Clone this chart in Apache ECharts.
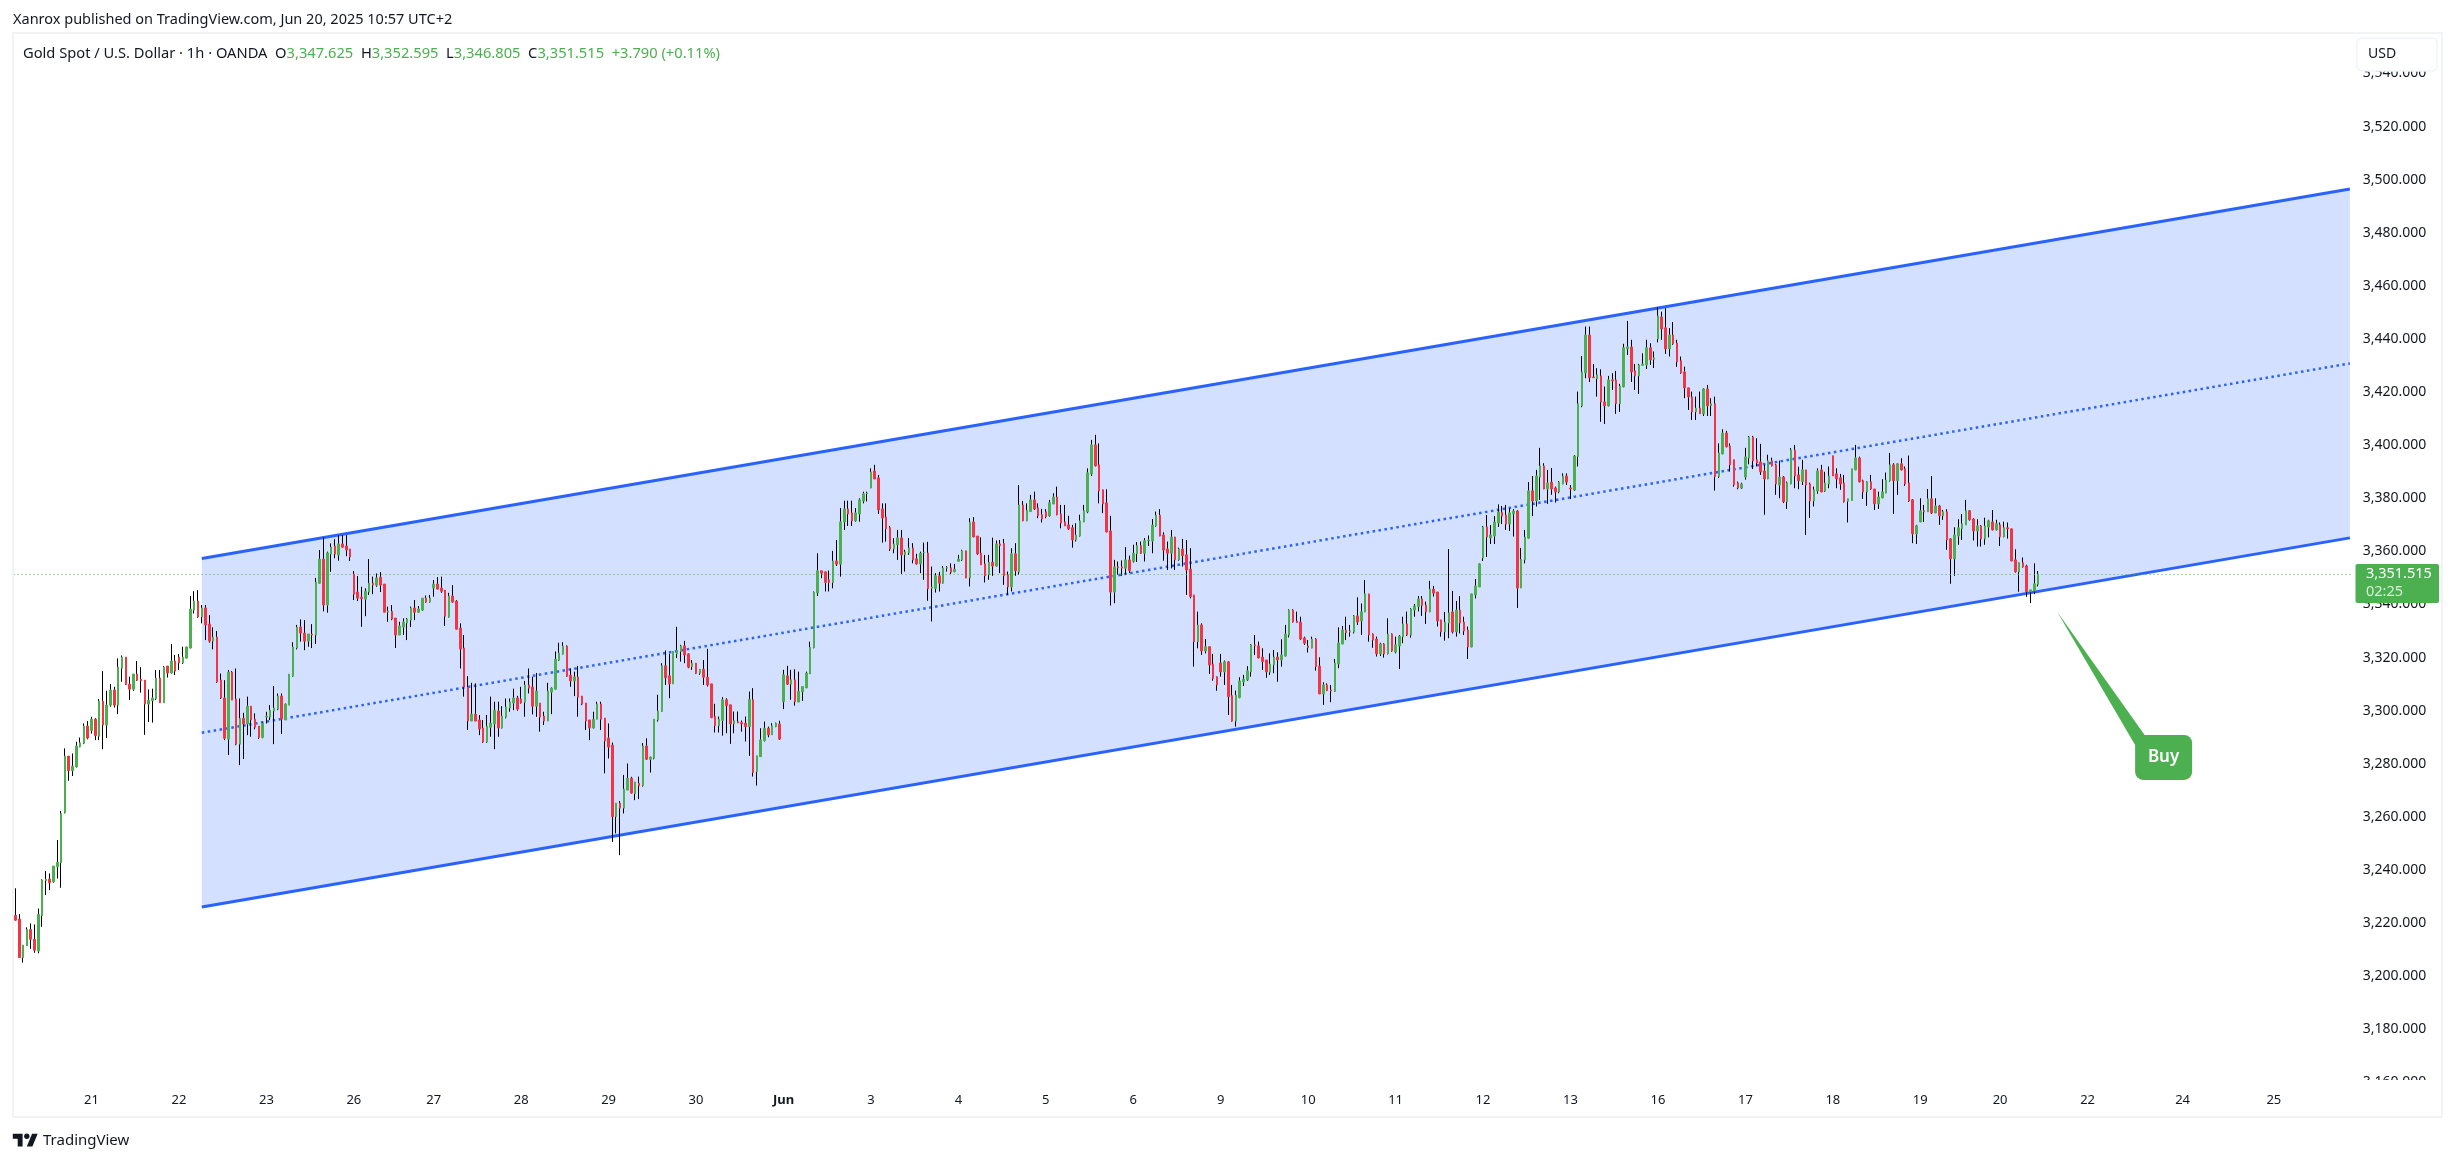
<!DOCTYPE html>
<html>
<head>
<meta charset="utf-8">
<title>Gold Spot / U.S. Dollar</title>
<script src="https://cdn.jsdelivr.net/npm/echarts@6/dist/echarts.min.js"></script>
<style>
  html, body { margin: 0; padding: 0; background: #fff; }
  #chart { width: 2455px; height: 1162px; }
</style>
</head>
<body>
<div id="chart"></div>
<script>
// each row is one hourly bar: open, high, low, close
const may20 = [
[3222.9,3233.1,3220.9,3221.1],[3221.5,3223.4,3207,3207],[3207,3211.7,3205.1,3211.7],[3211.5,3218.4,3211.5,3217.6],
[3217.6,3219.9,3210.3,3213.9],[3213.9,3219.5,3208.8,3209.8],[3209.5,3225.5,3208.6,3223.3],[3222.8,3236.5,3218.6,3236.2],
[3236,3239.6,3230.6,3236.5],[3236.6,3238.7,3232.4,3235.2],[3235.6,3241.5,3235.2,3241.5],[3241.2,3251.3,3236.8,3242.9],
[3242.7,3262.2,3233.3,3261.3],[3261.6,3285.8,3261.3,3282.9],[3282.9,3282.9,3273.6,3277.4],[3277.4,3283.9,3275.4,3279.1],
[3278.9,3288.3,3278.6,3286.7],[3286.4,3289.9,3286.2,3287.9],[3287.7,3295.2,3287.4,3294.2],[3294.2,3296.1,3289.2,3289.7]];
const may21 = [
[3292.5,3297.7,3291.4,3296.8],[3296.8,3297.2,3288.9,3290.6],[3290.4,3304.4,3288.9,3303.6],[3303.6,3314.9,3285.5,3294.6],
[3294.6,3307.5,3289.7,3302.1],[3302.1,3310,3301.5,3307.8],[3307.8,3309,3301.2,3302.1],[3302.1,3319.7,3298.7,3316.4],
[3316,3320.8,3310.9,3320.2],[3320.2,3320.2,3309.7,3309.9],[3310,3312.8,3304,3308.1],[3308.1,3313.8,3307.5,3313.8],
[3313.8,3318.7,3311.2,3311.5],[3311.9,3316.4,3306.8,3311.3],[3311.5,3311.5,3290.9,3302.5],[3302.5,3308,3295.7,3303.9],
[3303.8,3308.3,3295.5,3304.8],[3304.5,3315.3,3304,3312.3],[3312.3,3315.3,3303,3303],[3303,3316.8,3303,3316.4],
[3316.8,3316.8,3312.5,3314.2],[3314.2,3325.1,3314,3318.7],[3318.7,3321,3313.4,3314.9]];
const may22 = [
[3320.2,3321.3,3315.3,3318],[3318,3324.1,3317.6,3320.2],[3319.8,3324.1,3319.7,3324],[3323.6,3343.2,3323.5,3338.3],
[3337.9,3345,3336.6,3341.3],[3341.3,3345.4,3335,3335.3],[3335.3,3339.8,3332.9,3338.7],[3338.7,3339.8,3326.6,3332.3],
[3332.6,3336,3325.6,3326.2],[3326.2,3331.4,3323.1,3327.7],[3327.7,3330,3310.5,3310.8],[3311.5,3314,3304.4,3304.8],
[3304.8,3311.5,3288.9,3289.6],[3289.3,3315.3,3283.3,3314.5],[3314.5,3314.9,3304,3304],[3304.4,3315.9,3287,3287.4],
[3287.4,3304.6,3279.5,3297.1],[3297.1,3299.2,3281.8,3295],[3295,3305.3,3290.8,3301.7],[3301.7,3301.7,3290.2,3296.5],
[3296.8,3299,3293,3293.8],[3294.2,3294.2,3289.3,3290],[3290,3295.8,3289.6,3295.3]];
const may23 = [
[3297.6,3299.6,3295.2,3298],[3297.6,3302.1,3296.5,3300.2],[3299.9,3309.3,3287.4,3301],[3300.6,3306.5,3300.2,3305.5],
[3305.5,3306.5,3291.2,3296.8],[3296.5,3302.7,3296.5,3302.5],[3302.1,3313.8,3302.1,3313.8],[3313,3325.8,3312.8,3324],
[3323.6,3332.3,3323.1,3331.5],[3331.5,3334.4,3326,3329.2],[3329.2,3334.1,3322.8,3326.2],[3326.2,3328.9,3324.1,3328.9],
[3328.9,3332.6,3323.6,3328.5],[3328.5,3350,3325.1,3348.4],[3348,3360.5,3347.9,3357.1],[3357.1,3365.3,3337.4,3339.8],
[3339.8,3359.9,3336.9,3359.4],[3359,3363,3352.3,3361.6],[3362,3364.6,3357.4,3359],[3358.6,3366.1,3356.5,3362.8],
[3362.8,3366.1,3361.4,3361.6],[3362,3366.1,3358.2,3360.5],[3360.9,3360.9,3356.4,3357.9]];
const may26 = [
[3351.5,3352.6,3341.7,3343.9],[3344.7,3350.7,3341.3,3342.4],[3342.8,3346.7,3331.6,3342.2],[3342,3346.1,3335.6,3345],
[3344.7,3357.1,3343.6,3348.1],[3348.1,3350.5,3343.9,3347.3],[3347.3,3351.7,3346.7,3350],[3350.3,3352.2,3344.7,3347.3],
[3347.7,3347.7,3337.1,3337.1],[3337.1,3339.2,3333.5,3337.5],[3337.5,3339.8,3334.1,3334.5],[3334.9,3334.9,3323.6,3328.5],
[3328.5,3333.5,3328.5,3331.9],[3331.5,3334.8,3328.5,3333.4],[3333,3334.9,3326.6,3334.5],[3334.1,3339.2,3331.5,3338.7],
[3338.7,3341.7,3334.1,3337.1],[3337.1,3339.4,3336.9,3338.3],[3337.9,3342.4,3337.6,3342.4],[3342.4,3343.4,3340.7,3340.9],
[3340.9,3343.6,3340.7,3342.4]];
const may27 = [
[3346.2,3349.2,3342.9,3347.7],[3347.7,3350.3,3345.7,3345.8],[3346.2,3350.5,3344.4,3345],[3345.4,3345.4,3331.9,3335.6],
[3335.3,3344.4,3335.1,3343.2],[3343.2,3347.3,3340.7,3340.9],[3341.3,3341.7,3330.7,3330.7],[3331.1,3332.9,3315.9,3323.2],
[3323.6,3328.5,3305.3,3308.9],[3308.9,3313,3292.7,3296.1],[3296.1,3310.5,3296.1,3298.7],[3298.7,3310.3,3296.1,3296.1],
[3296.5,3298.4,3290.8,3293.1],[3293.5,3296.5,3287.9,3288.2],[3288.2,3298.4,3287.9,3294.2],[3293.8,3305.3,3290.2,3295.3],
[3295,3303.4,3285.5,3300.2],[3299.9,3303.4,3290.2,3293.5],[3293.5,3301.7,3293.3,3298],[3297.5,3304.6,3297.1,3301.4],
[3301,3304.6,3299.6,3303.3],[3302.9,3308.3,3300.2,3304.8],[3304.8,3305.6,3300,3300.6]];
const may28 = [
[3304.4,3309,3302.7,3302.9],[3303.2,3311.2,3297.7,3309.7],[3309.7,3315.9,3306.5,3308.5],[3308.9,3312.8,3298.6,3301.7],
[3301.7,3314.2,3297.7,3307.4],[3302.9,3302.9,3292.1,3297.6],[3298,3299.6,3294.6,3296.1],[3296.1,3310.5,3296.1,3307.4],
[3307,3308.8,3298.7,3308.5],[3308.1,3322.3,3308,3319.4],[3319,3325.6,3318.8,3321.7],[3321.3,3325.8,3321.2,3324.3],
[3324.3,3324.6,3312.8,3313],[3313.4,3315.9,3309,3311.2],[3311.2,3314.7,3305.5,3312.7],[3312.7,3316.9,3297.7,3305.1],
[3305.5,3305.5,3302.1,3302.5],[3302.9,3302.9,3292.7,3296.1],[3296.5,3296.5,3288.9,3293.5],[3293.5,3299.6,3293.3,3296.8],
[3296.8,3303.4,3296.8,3302.5],[3302.5,3303.4,3292.7,3296.8],[3297.2,3297.2,3276.4,3288.6]];
const may29 = [
[3289.7,3295.2,3282,3286.3],[3287,3288,3250.6,3260.1],[3260.1,3265.2,3253.8,3265.2],[3265.2,3266,3245.6,3263.3],
[3263.3,3275.8,3261.3,3270.5],[3270.1,3280.1,3270.1,3274.6],[3274.6,3275.1,3268.8,3269],[3268.8,3273.2,3266.3,3273.1],
[3272.7,3275.2,3266.7,3271.7],[3271.8,3287.8,3271.4,3286.7],[3286.7,3289.6,3281.5,3281.7],[3281.7,3282.7,3276.7,3282.5],
[3282.1,3296.8,3281.7,3296.8],[3296.5,3306,3295.9,3299.9],[3299.7,3317.9,3299.7,3316.9],[3316.9,3322.7,3309.7,3312.4],
[3313.1,3321.4,3304.7,3310.1],[3310.1,3322.3,3310.1,3322.3],[3321.4,3331.6,3319.8,3322.7],[3322.3,3324.8,3318.5,3324.4],
[3324.4,3326.3,3317.9,3321],[3321.4,3321.6,3316,3316.4],[3316.6,3319.1,3315.4,3317.9]];
const may30 = [
[3317.9,3317.9,3313.9,3314.1],[3314.1,3315.6,3313.5,3315.6],[3315.6,3319.1,3309.7,3312.6],[3312.6,3323.3,3309.1,3309.7],
[3310.1,3310.1,3297.2,3297.4],[3297.8,3302.6,3291.8,3294.3],[3294.3,3297.8,3291.8,3296.8],[3296.3,3305.1,3290.6,3304.1],
[3304.1,3304.7,3291.5,3301.9],[3302.2,3302.2,3287.5,3295],[3295,3299.7,3291.5,3296.2],[3295.9,3299.7,3295.3,3295.5],
[3295.5,3296.3,3292.1,3295],[3295.3,3297.8,3288.4,3294],[3294,3307.2,3283,3304.3],[3304.1,3308.5,3275.2,3276.7],
[3277,3283,3271.8,3283],[3282.7,3293.4,3282.7,3289],[3288.8,3295.9,3288.4,3293.4],[3293.4,3294,3290,3290.9],
[3290.9,3295.3,3290.9,3294.3],[3294,3295.5,3293.8,3295.3],[3295,3296.2,3289,3289.3]];
const jun2 = [
[3303.4,3315.4,3300.6,3313.5],[3313.1,3316.9,3309.7,3310],[3310,3315.4,3304.1,3311.6],[3311.6,3315.6,3301.9,3303.4],
[3303.3,3314.7,3303.2,3307.3],[3307.1,3309.3,3303.7,3309.1],[3308.6,3314.7,3308.5,3314.1],[3313.9,3326,3313.9,3323.9],
[3323.7,3344.9,3323.5,3344.6],[3344.4,3359.3,3343.2,3352.7],[3352.7,3352.7,3349.9,3351.8],[3352.3,3352.3,3344.9,3348.3],
[3349.3,3352.8,3344.9,3348.3],[3348.3,3360.2,3346.1,3356.4],[3356.4,3364.3,3354.5,3355.2],[3355.2,3376.3,3350.5,3371.1],
[3371.1,3379.1,3368.1,3376],[3376,3379.1,3369.6,3374.1],[3374.5,3379.1,3369.6,3371.5],[3371.5,3376.3,3371.2,3374.5],
[3374.1,3380,3371.2,3379.4],[3379,3382.5,3378.1,3381.7],[3381.7,3382.5,3378.8,3382]];
const jun3 = [
[3383.9,3391.3,3383.8,3389.9],[3390.3,3392.6,3387.2,3387.3],[3387.7,3388.8,3374.1,3375.6],[3376,3378.1,3363.3,3372.6],
[3373,3378.1,3363.7,3368.5],[3368.9,3369.6,3360.2,3360.9],[3360.9,3365,3359.3,3362.8],[3362.5,3368.1,3356.8,3365.1],
[3365.1,3368.1,3351.5,3358.7],[3358.7,3360.6,3352.4,3359.8],[3359.4,3365,3358.7,3361.3],[3361.3,3363.1,3355.5,3356.8],
[3357.2,3359.1,3355,3355.3],[3355.3,3359.9,3351.8,3359.3],[3359.5,3363.3,3349.3,3359.6],[3359.4,3363.6,3341.4,3345.9],
[3346.1,3354.3,3333.6,3346.6],[3346.1,3351.8,3344.5,3350.8],[3350.8,3352.3,3344.9,3348],[3348,3354.5,3347.9,3353.7],
[3353.7,3354.5,3352.4,3353.9],[3353.8,3355.5,3351.5,3352.2],[3352.3,3355.3,3352.2,3353.3]];
const jun4 = [
[3356.3,3358.7,3356.2,3357.1],[3356.8,3360.6,3356.4,3360.2],[3360.2,3360.2,3349.9,3350],[3350,3372.5,3346.8,3371],
[3371.1,3372.9,3365.3,3365.5],[3365.8,3365.8,3358.7,3359.1],[3359.3,3365.3,3354.9,3354.9],[3355.3,3358.7,3348.3,3350.8],
[3351.2,3358.7,3349.3,3355.9],[3355.9,3365.2,3350.8,3354.5],[3354.5,3364.1,3354.3,3362.8],[3362.8,3364.3,3351.8,3362.2],
[3363,3364.7,3347.4,3350.8],[3351.2,3352.4,3343.6,3346.6],[3346.6,3361.2,3344.9,3359.1],[3359.1,3363.1,3350.8,3352.7],
[3352.3,3385,3351.2,3377.5],[3377.5,3379,3371.4,3371.5],[3371.5,3378.1,3371.4,3375.4],[3375,3381.3,3375,3379.4],
[3379.4,3382.5,3375.6,3376],[3376.4,3378.1,3372.5,3373.4],[3373.8,3376,3370.9,3372.2]];
const jun5 = [
[3374.9,3375.9,3372.5,3373.1],[3373.4,3379.4,3373.1,3378.3],[3377.9,3381.9,3377.8,3380.5],[3380.5,3384.4,3373.6,3373.8],
[3374.1,3377.5,3368.7,3370.7],[3371.1,3377.5,3369.6,3369.6],[3370,3373.4,3368.1,3368.5],[3368.9,3370,3361.4,3364.3],
[3364.3,3370.6,3363.7,3366.2],[3365.8,3373.8,3365.6,3371.5],[3371.1,3377.5,3371,3375.3],[3374.9,3391.3,3374.4,3389.6],
[3389.2,3402,3388.4,3400.1],[3400.1,3403.9,3392,3392.2],[3392.6,3400.7,3378.1,3382.8],[3383.2,3383.2,3374.4,3377.9],
[3378.3,3383.4,3367.2,3367.3],[3367.7,3373.4,3339.6,3344.7],[3344.7,3356.8,3340.5,3354.2],[3354.2,3356.2,3351.2,3353.8],
[3354.2,3356.6,3350.8,3353.7],[3353.7,3361.6,3351.2,3356.8],[3356.8,3358.4,3351.8,3352.8]];
const jun6 = [
[3356.3,3362.5,3355.8,3359.3],[3359.1,3363.5,3356,3362.2],[3362.2,3363.7,3359.1,3359.3],[3359.3,3365,3356.2,3364],
[3364,3366,3362,3364.3],[3363.9,3372.2,3359.3,3369.9],[3369.6,3375,3369.3,3373.7],[3373.7,3375.9,3365.7,3365.8],
[3366.2,3367.2,3356.5,3360.5],[3360.9,3363.7,3353,3359.3],[3359.3,3368.1,3353.6,3365.4],[3365.4,3365.5,3353,3356.8],
[3356.8,3361.4,3356.5,3360.9],[3360.9,3364.7,3354.3,3358.4],[3358.7,3364.3,3343.6,3353],[3353.3,3361.2,3342.3,3343],
[3343.6,3343.6,3316.6,3326],[3326,3337.3,3323.5,3332.3],[3332.3,3332.9,3321,3322.5],[3322.5,3327,3321.6,3324.1],
[3324.1,3324.1,3313.8,3317.2],[3317.6,3321.4,3311.3,3312.2],[3312.8,3312.8,3307.5,3309.7]];
const jun9 = [
[3318,3321.4,3312.8,3314.6],[3314.6,3318.9,3309.7,3318.4],[3318.4,3318.6,3298.4,3305.3],[3305.7,3309.7,3295.9,3296.1],
[3296.1,3307.6,3294,3305.9],[3305,3312.6,3304.7,3311.2],[3310.8,3313.5,3309.3,3311.9],[3311.6,3316.8,3311.2,3315],
[3314.6,3325.1,3312.8,3324.8],[3324.8,3328.5,3321,3324.4],[3324.4,3326,3319.7,3319.9],[3320.2,3323.5,3315.3,3318.5],
[3319.1,3319.1,3312.4,3314.6],[3314.5,3321.6,3313.5,3317.6],[3317.2,3322.9,3314.1,3320.2],[3320.2,3322,3310.9,3319.1],
[3319.1,3326.9,3316.6,3321],[3320.6,3332.3,3320.4,3328.9],[3328.5,3338.2,3327.6,3337.9],[3337.9,3338.2,3333.2,3333.4],
[3333.8,3337.3,3333.2,3333.2],[3333.4,3335.4,3326.6,3327],[3327.4,3327.9,3324.8,3325.4]];
const jun10 = [
[3324.4,3326.6,3321.9,3323.7],[3323.6,3327.9,3323.5,3327],[3327,3327.3,3315.1,3316.6],[3316.8,3320.1,3306.3,3306.3],
[3306.3,3310.7,3302.2,3309.7],[3309.7,3310.3,3307.4,3307.6],[3307.8,3309.7,3303.2,3307.4],[3307.2,3319.5,3307.1,3318],
[3317.6,3331.4,3316,3325.5],[3325.1,3331.9,3325.1,3330.4],[3330.4,3335.4,3326.6,3329.4],[3329.6,3332.3,3327.9,3330],
[3329.6,3336,3329.1,3335.7],[3335.7,3342.7,3332.3,3333.4],[3333.8,3340.4,3328.5,3337.2],[3337.2,3349.2,3337.1,3344],
[3344,3344,3326,3328.5],[3328.9,3329.1,3323.7,3326.6],[3327,3327.9,3320.4,3321.4],[3321.4,3325.6,3320.6,3325.1],
[3325.1,3325.4,3320,3321.4],[3321.4,3334.8,3321.2,3328.9],[3328.9,3329.1,3322.2,3322.5],[3322.1,3327.9,3321.6,3324.8]];
const jun11 = [
[3324.4,3328.5,3315.7,3328.1],[3327.8,3335.4,3325.4,3332.7],[3332.7,3337.3,3328.1,3328.5],[3328.5,3338.6,3327.5,3338.3],
[3337.9,3340.2,3335.4,3339.4],[3339.2,3343.2,3337.4,3342.1],[3342.1,3343.2,3335.7,3339.6],[3339.8,3341.1,3332.7,3337.2],
[3337.2,3348.9,3337.1,3345.8],[3345.8,3347,3343,3344.3],[3344.7,3344.7,3331.7,3333.8],[3334.2,3334.2,3327.9,3329.7],
[3329.7,3337.2,3326.4,3333.4],[3333,3360.9,3327.3,3336.8],[3337.2,3345.1,3329.1,3329.7],[3329.7,3341.3,3327.9,3337.9],
[3337.9,3343.2,3329.1,3333],[3333.4,3335.4,3328.5,3330],[3330.4,3331.7,3319.5,3324],[3324,3344,3323.9,3344],
[3343.6,3349.6,3342.3,3347],[3346.6,3355.5,3346.6,3355.3]];
const jun12 = [
[3357.5,3369.6,3356.4,3369.2],[3369.2,3373.7,3357.9,3365.4],[3365.1,3369.9,3362.8,3366.2],[3365.8,3373.3,3362.8,3371.1],
[3370.7,3377.7,3369.2,3374.8],[3374.8,3377.1,3370.3,3373.3],[3373.7,3377.5,3368.1,3370.3],[3370.3,3376.2,3367.7,3374.5],
[3374.1,3375.9,3365.6,3375.2],[3375.2,3375.6,3338.7,3346.2],[3346.2,3361.3,3346.2,3357],[3356.8,3368.1,3355.5,3365.4],
[3365,3386.1,3364.8,3382.8],[3382.8,3388.4,3373.3,3379],[3379,3390.7,3376.9,3388.4],[3388,3399,3379.4,3392.2],
[3392.2,3393.2,3383.4,3383.5],[3383.5,3390.7,3377.9,3385.8],[3386.1,3391.4,3381.3,3383.5],[3383.9,3384.4,3378.4,3382.4],
[3382.4,3386.5,3381.9,3386.1],[3385.4,3389.4,3385.3,3388.4],[3388.4,3389.4,3385,3386.1]];
const jun13 = [
[3383.9,3385,3379.7,3383.5],[3383.1,3396.3,3382.8,3395.9],[3395.7,3420.2,3392,3415.6],[3414.8,3433.6,3414.3,3427.6],
[3427.2,3444.7,3425.2,3441.5],[3441.5,3444.7,3423.8,3425.4],[3425.7,3430.6,3425.4,3425.4],[3425,3429,3418.3,3426.5],
[3426.1,3428.6,3408.8,3416.3],[3416.3,3422.1,3408,3414.8],[3414.8,3426.1,3414.6,3424.6],[3424.6,3427.1,3420.8,3424.2],
[3424.6,3428,3411.8,3415.6],[3415.6,3423.1,3412.5,3422.3],[3422,3438.2,3421.8,3436.7],[3436.3,3446.8,3434,3437],
[3437,3439.7,3423.8,3427.6],[3428,3430.6,3420.8,3426.1],[3426.1,3430.6,3419.3,3430.2],[3430.1,3434.6,3430.1,3430.6],
[3430.2,3439.7,3428.7,3436.7],[3436.7,3438.4,3430.2,3432.1],[3432.3,3435.3,3429.1,3432.9]];
const jun16 = [
[3440,3452,3438.7,3448.7],[3448.3,3450.3,3439.7,3443.8],[3444.2,3451.6,3434.4,3436.3],[3436.3,3444.1,3433.4,3441.5],
[3441.5,3446.4,3437.8,3438.2],[3438.5,3439.7,3429.5,3431.4],[3431.8,3433.4,3426.9,3427.2],[3427.6,3429.6,3417.7,3421.6],
[3421.6,3421.6,3413.3,3418.2],[3418.2,3420.2,3409.5,3412.5],[3412.5,3418.3,3409.5,3414],[3414,3420.2,3411.8,3411.8],
[3411.8,3421.5,3411,3421.2],[3421.2,3422.7,3411,3414.8],[3414.8,3417.7,3411,3415.6],[3415.6,3418.3,3382.9,3388.2],
[3388.2,3400.7,3387.6,3397.1],[3396.7,3406,3396.6,3404.6],[3404.6,3405.4,3399.2,3399.4],[3399.7,3400.7,3390.1,3392.6],
[3394.5,3394.5,3384.4,3385.1],[3385.8,3386.3,3383.4,3383.9],[3383.9,3385.9,3383.5,3385.4]];
const jun17 = [
[3388,3399,3387,3395.6],[3395.2,3403.5,3392.8,3403.1],[3403.1,3403.5,3391,3394.1],[3394.5,3402.6,3392,3393.3],
[3393.7,3400.5,3388.8,3390],[3390.3,3392.6,3373.8,3387.3],[3387.3,3396.4,3387.2,3394.1],[3394.1,3395.3,3392,3392.2],
[3392.6,3393,3381.3,3385.4],[3385,3394.2,3380,3388],[3388,3388.4,3378.2,3378.7],[3378.7,3386.3,3376,3385.8],
[3385.4,3398.9,3385.3,3398.2],[3398.2,3400.1,3383.8,3388.4],[3388.8,3391.9,3383.4,3386.6],[3386.3,3394.5,3385,3390.7],
[3390.7,3390.7,3366.2,3385],[3385.4,3385.9,3372.6,3379],[3379,3384.4,3376.9,3383.2],[3382.8,3391.3,3381.7,3390.3],
[3390.7,3392.6,3382.3,3382.4],[3382.7,3390,3382.4,3385.8],[3385.4,3392,3383.8,3388.4],[3396,3396,3388.4,3388.4]];
const jun18 = [
[3389.2,3391.3,3383.8,3387.3],[3387.7,3389.2,3383.2,3385.4],[3385.8,3388.8,3378.4,3378.7],[3378.9,3379.8,3370.9,3379.8],
[3379.2,3391.1,3379.2,3391.1],[3390.7,3400.1,3390.6,3395.2],[3395.2,3395.7,3386,3386.2],[3386.6,3387,3379.8,3382.4],
[3382.4,3386.4,3377.1,3386.2],[3386.2,3388.8,3383.2,3383.5],[3383.5,3383.5,3375.6,3377.9],[3377.9,3382.5,3376,3380.5],
[3380.2,3387.2,3380,3382.4],[3382,3389.7,3381.9,3386.9],[3386.6,3397.1,3386.3,3392.6],[3392.6,3393.2,3374.1,3386.6],
[3386.6,3393.2,3381.3,3393],[3393,3395.1,3390.5,3390.7],[3391.1,3392,3384.7,3385.4],[3385.8,3396.1,3378.6,3379],
[3379.4,3379.7,3363.1,3366.6],[3366.6,3370,3362.8,3369.6],[3371.1,3380,3371,3375.3]];
const jun19 = [
[3375.3,3377.5,3371.1,3374.9],[3374.9,3383.5,3374.9,3379.8],[3379.8,3388.4,3374.1,3374.5],[3374.5,3380,3374.4,3377.1],
[3377.1,3377.5,3370,3373.4],[3373.4,3375.6,3371.9,3374.9],[3374.9,3375.9,3360.6,3364.3],[3364.7,3365,3347.8,3357.2],
[3357.2,3369.1,3350.8,3366.2],[3365.8,3372.1,3362.5,3368.9],[3368.5,3374.1,3364.3,3370.4],[3370,3379.4,3369.9,3375.3],
[3375.3,3375.6,3371.6,3371.9],[3372.2,3372.5,3364.1,3367.7],[3367.7,3372.1,3361.8,3369.6],[3369.6,3369.9,3361.8,3364.7],
[3364.7,3372.7,3362.5,3369.6],[3369.2,3371.9,3365.3,3371.5],[3371.1,3375.6,3367.9,3368.1],[3368.1,3371.9,3367.9,3370.4],
[3370,3370.9,3362,3365.5]];
const jun20 = [
[3365.5,3371.2,3365.3,3368.9],[3368.9,3370.9,3364.8,3368.5],[3368.5,3368.5,3356.3,3356.4],[3356.8,3360.8,3352,3352.3],
[3352.3,3355.8,3344.8,3355.7],[3355.7,3357.7,3353.9,3354.2],[3354.5,3355,3342.9,3344.8],[3344.8,3345.5,3340.6,3345.5],
[3345.1,3355.5,3343.9,3347.8],[3347.625,3352.595,3346.805,3351.515]];

const bars = [may20, may21, may22, may23, may26, may27, may28, may29, may30, jun2, jun3, jun4, jun5,
  jun6, jun9, jun10, jun11, jun12, jun13, jun16, jun17, jun18, jun19, jun20].flat();

// x axis: one slot per hour, future slots included
const slotCount = 615;
const tickSlots = [20, 43, 66, 89, 110, 133, 156, 179, 202, 225, 248, 271, 294, 317, 340, 363, 386, 409, 432, 455, 478, 501, 522, 545, 570, 594];
const tickLabels = ['21', '22', '23', '26', '27', '28', '29', '30', 'Jun', '3', '4', '5', '6', '9', '10', '11', '12', '13', '16', '17', '18', '19', '20', '22', '24', '25'];

// channel drawing
const channelSlots = [49, 614];
const channelUpper = [3357.3, 3496.5];
const channelMiddle = [3291.7, 3430.8];
const channelLower = [3226.1, 3365.1];

// callout
const buyTip = [537, 3337.3];
const buyBox = [565, 3282.4];

const lastPrice = 3351.515;
const green = '#4caf50';
const red = '#f23645';
const textColor = '#131722';
const fontFamily = '"Noto Sans", sans-serif';

const categories = [];
for (let i = 0; i < slotCount; i++) {
  const t = tickSlots.indexOf(i);
  categories.push(t >= 0 ? tickLabels[t] : '');
}

function channelLine(name, values, lineStyle) {
  return {
    name: name,
    type: 'line',
    data: channelSlots.map((s, i) => [s, values[i]]),
    showSymbol: false,
    silent: true,
    lineStyle: lineStyle,
    z: 3
  };
}

function fmtPrice(v) {
  return v.toLocaleString('en-US', { minimumFractionDigits: 3, maximumFractionDigits: 3 });
}

const myChart = echarts.init(document.getElementById('chart'));

const option = {
  animation: false,
  backgroundColor: '#ffffff',
  textStyle: { fontFamily: fontFamily },
  grid: { left: 13.6, top: 20.4, width: 2338.2, height: 1062 },
  xAxis: {
    type: 'category',
    data: categories,
    axisLine: { show: false },
    axisTick: { show: false },
    splitLine: { show: false },
    axisLabel: {
      interval: 0,
      margin: 11,
      fontSize: 13,
      color: textColor,
      fontFamily: fontFamily,
      formatter: v => v === 'Jun' ? '{b|Jun}' : v,
      rich: { b: { fontWeight: 'bold', fontSize: 13, color: textColor, fontFamily: fontFamily } }
    }
  },
  yAxis: {
    type: 'value',
    position: 'right',
    min: 3160,
    max: 3560,
    interval: 20,
    axisLine: { show: false },
    axisTick: { show: false },
    splitLine: { show: false },
    axisLabel: {
      margin: 11,
      fontSize: 14,
      color: textColor,
      fontFamily: fontFamily,
      formatter: v => v === 3560 ? '' : fmtPrice(v)
    }
  },
  series: [
    {
      name: 'Channel fill',
      type: 'custom',
      silent: true,
      z: 1,
      data: [0],
      renderItem: function (params, api) {
        const a = api.coord([channelSlots[0], channelUpper[0]]);
        const b = api.coord([channelSlots[1], channelUpper[1]]);
        const c = api.coord([channelSlots[1], channelLower[1]]);
        const d = api.coord([channelSlots[0], channelLower[0]]);
        return {
          type: 'polygon',
          shape: { points: [a, b, c, d] },
          style: { fill: 'rgba(41,98,255,0.2)' }
        };
      }
    },
    channelLine('Upper', channelUpper, { color: '#2962ff', width: 3 }),
    channelLine('Middle', channelMiddle, { color: '#2962ff', width: 2.5, type: [2.5, 3.5] }),
    channelLine('Lower', channelLower, { color: '#2962ff', width: 3 }),
    {
      // black wicks, the bodies go on top
      name: 'Wicks',
      type: 'candlestick',
      barWidth: 1,
      silent: true,
      z: 4,
      data: bars.map(b => [b[0], b[3], b[2], b[1]]),
      itemStyle: { color: '#000', color0: '#000', borderColor: '#000', borderColor0: '#000', borderWidth: 1 },
      markLine: {
        silent: true,
        symbol: 'none',
        label: { show: false },
        lineStyle: { color: green, width: 1, type: [1, 3] },
        data: [{ yAxis: lastPrice }]
      }
    },
    {
      name: 'Bodies',
      type: 'candlestick',
      barWidth: 2,
      silent: true,
      z: 5,
      data: bars.map(b => [b[0], b[3], Math.min(b[0], b[3]), Math.max(b[0], b[3])]),
      itemStyle: { color: green, color0: red, borderColor: green, borderColor0: red, borderWidth: 1 }
    },
    {
      name: 'Buy',
      type: 'custom',
      silent: true,
      z: 6,
      data: [0],
      renderItem: function (params, api) {
        const tip = api.coord(buyTip);
        const box = api.coord(buyBox);
        return {
          type: 'group',
          children: [
            {
              type: 'polygon',
              shape: { points: [tip, [box[0] - 28.5, box[1] - 12.5], [box[0] - 19, box[1] - 22.5]] },
              style: { fill: green }
            },
            {
              type: 'rect',
              shape: { x: box[0] - 28.5, y: box[1] - 22.5, width: 57, height: 45, r: 8 },
              style: { fill: green }
            },
            {
              type: 'text',
              style: {
                x: box[0], y: box[1], text: 'Buy', fill: '#fff', fontSize: 17, fontWeight: 600,
                fontFamily: fontFamily, align: 'center', verticalAlign: 'middle'
              }
            }
          ]
        };
      }
    },
    {
      name: 'Price tag',
      type: 'custom',
      silent: true,
      z: 7,
      data: [0],
      renderItem: function (params, api) {
        const y = api.coord([0, lastPrice])[1];
        return {
          type: 'group',
          children: [
            {
              type: 'rect',
              shape: { x: 2355.5, y: y - 10, width: 83.5, height: 39, r: 2 },
              style: { fill: green }
            },
            {
              type: 'text',
              style: {
                x: 2366, y: y, text: fmtPrice(lastPrice), fill: '#fff', fontSize: 14.5, fontFamily: fontFamily,
                verticalAlign: 'middle'
              }
            },
            {
              type: 'text',
              style: {
                x: 2366, y: y + 18, text: '02:25', fill: 'rgba(255,255,255,0.8)', fontSize: 14.5, fontFamily: fontFamily,
                verticalAlign: 'middle'
              }
            }
          ]
        };
      }
    }
  ],
  graphic: [
    // strip under the pane, cuts off the lowest price label
    { type: 'rect', z: 100, shape: { x: 2354, y: 1080, width: 86, height: 36 }, style: { fill: '#fff' } },
    { type: 'rect', z: 101, shape: { x: 13, y: 33, width: 2429, height: 1084 }, style: { fill: 'none', stroke: '#f2f3f5', lineWidth: 2 } },
    { type: 'rect', z: 102, shape: { x: 2357, y: 38, width: 80, height: 33, r: 5 }, style: { fill: '#fff', stroke: '#f0f3fa', lineWidth: 1.5 } },
    { type: 'text', z: 103, style: { x: 2368, y: 54.5, text: 'USD', fill: textColor, fontSize: 14, fontFamily: fontFamily, verticalAlign: 'middle' } },
    { type: 'text', z: 103, style: { x: 13, y: 20, text: 'Xanrox published on TradingView.com, Jun 20, 2025 10:57 UTC+2', fill: textColor, fontSize: 14.5, fontFamily: fontFamily, verticalAlign: 'middle' } },
    {
      type: 'text',
      z: 103,
      style: {
        x: 23,
        y: 54,
        verticalAlign: 'middle',
        text: 'Gold Spot / U.S. Dollar · 1h · OANDA  O{g|3,347.625}  H{g|3,352.595}  L{g|3,346.805}  C{g|3,351.515}  {g|+3.790 (+0.11%)}',
        fill: textColor,
        fontSize: 14.7,
        fontFamily: fontFamily,
        rich: { g: { fill: green, fontSize: 14.7, fontFamily: fontFamily } }
      }
    },
    // TradingView mark
    { type: 'polygon', z: 103, x: 12.8, y: 1131, scaleX: 0.7, scaleY: 0.7, shape: { points: [[0, 4], [14, 4], [14, 22], [7, 22], [7, 11], [0, 11]] }, style: { fill: textColor } },
    { type: 'polygon', z: 103, x: 12.8, y: 1131, scaleX: 0.7, scaleY: 0.7, shape: { points: [[27.5, 4], [35.5, 4], [28, 22], [20, 22]] }, style: { fill: textColor } },
    { type: 'circle', z: 103, x: 12.8, y: 1131, scaleX: 0.7, scaleY: 0.7, shape: { cx: 20, cy: 7.5, r: 3.8 }, style: { fill: textColor } },
    { type: 'text', z: 103, style: { x: 43, y: 1141, text: 'TradingView', fill: textColor, fontSize: 15, fontFamily: fontFamily, verticalAlign: 'middle' } }
  ]
};

myChart.setOption(option);
</script>
</body>
</html>
